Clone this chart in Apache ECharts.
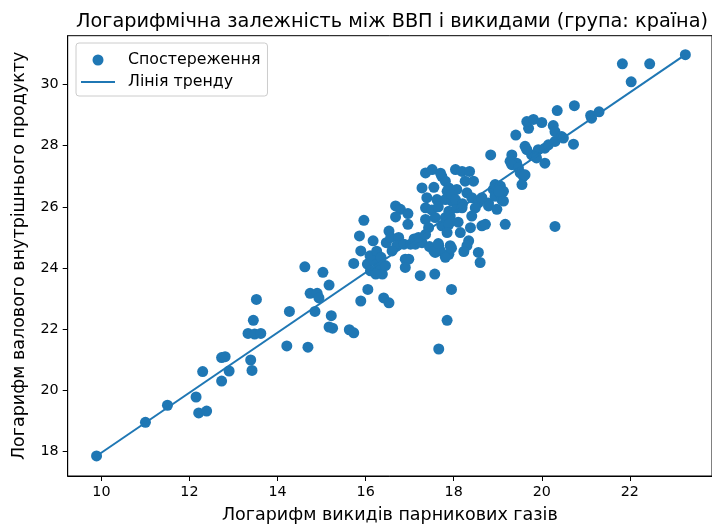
<!DOCTYPE html>
<html>
<head>
<meta charset="utf-8">
<script src="https://cdn.jsdelivr.net/npm/echarts@6/dist/echarts.min.js"></script>
<style>
  html, body { margin: 0; padding: 0; background: #fff; }
  #chart { width: 712px; height: 529px; }
</style>
</head>
<body>
<div id="chart"></div>
<script>
// точки спостережень (log викидів, log ВВП)
const emissions = [
  9.89, 11.0, 11.5, 12.15, 12.21, 12.39, 12.3, 12.73, 12.73, 12.81, 12.9, 13.39, 13.42, 13.33, 13.48, 13.62, 13.45, 13.52, 14.21, 14.27, 14.62, 14.69,
  14.74, 14.9, 14.94, 14.85, 15.03, 15.17, 15.22, 15.17, 15.25, 15.63, 15.73, 15.73, 15.86, 15.96,
  15.89, 16.05, 16.41, 16.53, 15.89, 16.17, 16.04, 16.19, 16.3, 16.11, 16.38, 16.23, 16.45, 16.53, 16.47, 16.68, 16.79, 16.68, 16.96, 16.96,
  16.57, 16.75, 16.71, 16.87, 16.6, 16.9, 16.98, 16.9, 17.02, 17.13, 17.28, 17.24, 16.1, 16.25, 16.35, 17.1, 17.2,
  17.36, 17.51, 17.28, 17.55, 17.39, 17.36, 17.62, 17.73, 17.81, 18.04, 18.19, 18.36, 17.89, 18.07, 18.26, 18.45, 18.3, 17.81, 17.96, 17.89,
  18.07, 17.85, 17.96, 18.04, 17.5, 17.65, 18.2, 17.7,
  17.36, 17.43, 17.36, 17.58, 17.81, 17.92, 17.73, 17.89, 18.19, 18.41, 18.56, 18.49, 18.41, 18.38, 18.15, 17.85, 18.34, 18.3, 18.23, 17.92,
  17.89, 17.66, 17.58, 17.7, 17.81, 18.56, 18.6, 17.45, 17.57, 17.95, 17.85, 17.66, 18.1, 17.55, 17.65, 17.95,
  18.64, 18.79, 18.64, 18.72, 18.84, 18.9, 19.06, 19.13, 18.94, 19.09, 19.13, 18.79, 18.98, 19.17, 19.32, 19.28, 19.43, 19.32, 19.41, 19.7,
  19.62, 19.77, 19.92, 20.07, 19.47, 19.58, 19.55, 19.51, 19.62, 20.07, 20.3, 20.15, 20.3, 19.66, 19.81, 20.0, 19.85, 19.88, 19.66, 20.26,
  20.3, 20.45, 20.49, 20.35, 18.94, 19.02,
  20.72, 20.74, 21.13, 21.3, 21.11, 21.83, 22.45, 22.03, 23.26
];
const gdp = [
  17.85, 18.95, 19.51, 19.78, 19.26, 19.32, 20.61, 20.3, 21.07, 21.1, 20.63, 20.99, 20.65, 21.86, 21.84, 21.86, 22.29, 22.97, 21.45, 22.58, 24.04, 21.41,
  23.17, 23.17, 23.02, 22.58, 23.86, 23.44, 22.44, 22.07, 22.03, 21.98, 21.88, 24.15, 25.05, 25.56,
  22.92, 23.3, 23.02, 22.86, 24.56, 24.89, 24.13, 24.24, 24.02, 23.91, 23.8, 23.8, 24.08, 25.21, 24.83, 26.03, 25.92, 25.67, 25.78, 25.43,
  25.0, 25.0, 24.73, 24.78, 24.56, 24.29, 24.29, 24.02, 24.78, 24.78, 24.83, 23.75, 24.4, 24.55, 24.35, 24.95, 25.0,
  27.11, 27.22, 26.62, 26.64, 26.3, 25.97, 26.24, 27.0, 26.84, 27.22, 27.16, 27.16, 26.62, 26.57, 26.84, 26.84, 26.46, 26.24, 26.19, 25.86,
  25.97, 26.51, 26.4, 26.24, 25.9, 26.0, 26.1, 27.1,
  25.59, 25.32, 25.1, 25.65, 25.65, 25.7, 25.38, 25.43, 25.97, 26.3, 26.13, 25.97, 25.7, 25.32, 25.16, 25.16, 24.89, 24.73, 24.54, 24.73,
  24.45, 24.73, 24.51, 24.56, 24.35, 24.51, 24.18, 24.7, 23.8, 23.3, 22.29, 21.35, 25.5, 24.55, 24.8, 24.65,
  26.3, 26.13, 25.38, 25.43, 27.7, 26.57, 26.68, 26.51, 26.35, 26.24, 26.19, 26.03, 25.92, 25.43, 27.7, 27.49, 27.43, 27.38, 28.35, 28.57,
  27.98, 27.7, 27.87, 27.92, 27.27, 27.0, 26.73, 27.11, 27.05, 27.43, 25.36, 28.03, 28.14, 28.79, 28.86, 28.76, 27.65, 27.6, 27.87, 28.66,
  28.46, 28.3, 28.25, 29.15, 26.73, 26.51,
  28.05, 29.31, 28.9, 29.11, 28.99, 30.68, 30.68, 30.09, 30.98
];
// лінія тренду: кінці на межах даних
const trendX = [9.89, 23.26];
const trendY = [17.85, 30.98];

const xRange = [9.235, 23.865];
const yRange = [17.195, 31.6];

const font = 'DejaVu Sans';
const blue = '#1f77b4';

const chart = echarts.init(document.getElementById('chart'), null, { renderer: 'canvas' });

const axisCommon = {
  type: 'value',
  splitLine: { show: false },
  axisLine: { show: true, lineStyle: { color: '#000', width: 1 } },
  axisTick: { show: true, length: 5, lineStyle: { color: '#000', width: 1 } },
  axisLabel: { color: '#000', fontSize: 14.3, fontFamily: font, margin: 9, showMinLabel: false, showMaxLabel: false },
  nameLocation: 'middle',
  nameTextStyle: { color: '#000', fontSize: 17.5, fontFamily: font }
};

chart.setOption({
  animation: false,
  backgroundColor: '#fff',
  title: {
    text: 'Логарифмічна залежність між ВВП і викидами (група: країна)',
    left: 387,
    textAlign: 'center',
    top: 7,
    textStyle: { color: '#000', fontSize: 19.3, fontWeight: 'normal', fontFamily: font }
  },
  legend: {
    orient: 'vertical',
    left: 76,
    top: 43,
    padding: [9, 7, 6, 5],
    itemGap: 6,
    itemWidth: 34,
    itemHeight: 11,
    backgroundColor: 'rgba(255,255,255,0.8)',
    borderColor: '#cccccc',
    borderWidth: 1,
    borderRadius: 3,
    textStyle: { color: '#000', fontSize: 15.8, fontFamily: font, lineHeight: 16, padding: [0, 0, 0, 8] },
    data: [
      { name: 'Спостереження', icon: 'circle' },
      { name: 'Лінія тренду', icon: 'path://M0,0H34V2H0Z' }
    ]
  },
  grid: {
    left: 67.7, top: 35.7, width: 646.3, height: 444.3,
    show: true, borderColor: '#000', borderWidth: 1, backgroundColor: 'transparent'
  },
  xAxis: Object.assign({}, axisCommon, {
    min: xRange[0], max: xRange[1], splitNumber: 7,
    name: 'Логарифм викидів парникових газів', nameGap: 30
  }),
  yAxis: Object.assign({}, axisCommon, {
    min: yRange[0], max: yRange[1], splitNumber: 7,
    name: 'Логарифм валового внутрішнього продукту', nameGap: 39
  }),
  series: [
    {
      name: 'Спостереження',
      type: 'scatter',
      symbolSize: 11,
      itemStyle: { color: blue, opacity: 1 },
      data: emissions.map((x, i) => [x, gdp[i]])
    },
    {
      name: 'Лінія тренду',
      type: 'line',
      symbol: 'none',
      lineStyle: { color: blue, width: 2 },
      itemStyle: { color: blue },
      data: trendX.map((x, i) => [x, trendY[i]])
    }
  ]
});
</script>
</body>
</html>
